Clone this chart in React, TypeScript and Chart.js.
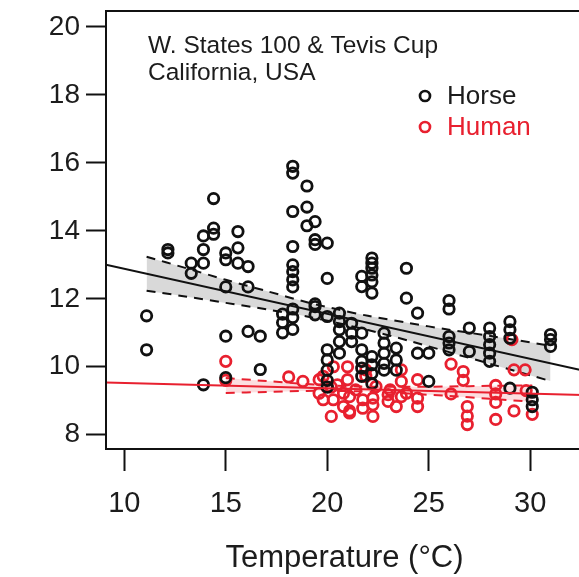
import { useEffect, useRef } from "react";
import { Chart, registerables } from "chart.js";

Chart.register(...registerables);

// Axis setup
const X_TICKS = [10, 15, 20, 25, 30];
const Y_TICKS = [8, 10, 12, 14, 16, 18, 20];
const X_MIN = 9.1;
const X_MAX = 32.6;
const Y_MIN = 7.58;
const Y_MAX = 20.47;

// Finishing speed vs. race-day temperature (temp °C, speed)
const horsePoints: [number, number][] = [
  [11.1, 11.5], [11.1, 10.5],
  [12.15, 13.45], [12.15, 13.35],
  [13.3, 13.05], [13.3, 12.75],
  [13.9, 13.85], [13.9, 13.45], [13.9, 13.05], [13.9, 9.47],
  [14.4, 14.95], [14.4, 14.08], [14.4, 13.9],
  [15.0, 13.35], [15.0, 13.15], [15.0, 12.35], [15.0, 10.9], [15.0, 9.68],
  [15.6, 13.98], [15.6, 13.5], [15.6, 13.05],
  [16.1, 12.95], [16.1, 12.35], [16.1, 11.04],
  [16.7, 10.9], [16.7, 9.92],
  [17.8, 11.55], [17.8, 11.3], [17.8, 11.0],
  [18.3, 15.9], [18.3, 15.7], [18.3, 14.57], [18.3, 13.54], [18.3, 13.0],
  [18.3, 12.8], [18.3, 12.56], [18.3, 12.35], [18.3, 11.7], [18.3, 11.45], [18.3, 11.1],
  [19.0, 15.32], [19.0, 14.7], [19.0, 14.15],
  [19.4, 14.27], [19.4, 13.74], [19.4, 13.6], [19.4, 11.85], [19.4, 11.77], [19.4, 11.53],
  [20.0, 13.64], [20.0, 12.6], [20.0, 11.48], [20.0, 10.5], [20.0, 10.2],
  [20.0, 9.9], [20.0, 9.6], [20.0, 9.4],
  [20.6, 11.58], [20.6, 11.33], [20.6, 11.09], [20.6, 10.74], [20.6, 10.4],
  [21.2, 11.28], [21.2, 10.99], [21.2, 10.74],
  [21.7, 12.66], [21.7, 12.36], [21.7, 10.99], [21.7, 10.5], [21.7, 10.16], [21.7, 9.96], [21.7, 9.72],
  [22.2, 13.2], [22.2, 13.05], [22.2, 12.9], [22.2, 12.7], [22.2, 12.5], [22.2, 12.17],
  [22.2, 10.3], [22.2, 10.06], [22.2, 9.8], [22.2, 9.5],
  [22.8, 10.99], [22.8, 10.7], [22.8, 10.4], [22.8, 10.1], [22.8, 9.9],
  [23.4, 10.55], [23.4, 10.2], [23.4, 9.9],
  [23.9, 12.9], [23.9, 12.02],
  [24.45, 11.58], [24.45, 10.4],
  [25.0, 10.4], [25.0, 9.57],
  [26.0, 11.95], [26.0, 11.7], [26.0, 10.89], [26.0, 10.7], [26.0, 10.5],
  [27.0, 11.14], [27.0, 10.45],
  [28.0, 11.14], [28.0, 10.89], [28.0, 10.65], [28.0, 10.4], [28.0, 10.16],
  [29.0, 11.33], [29.0, 11.09], [29.0, 10.84], [29.0, 9.37],
  [30.1, 9.25], [30.1, 9.03], [30.1, 8.83],
  [31.0, 10.95], [31.0, 10.8], [31.0, 10.6],
];

const humanPoints: [number, number][] = [
  [15.0, 10.16], [15.0, 9.6],
  [18.1, 9.7], [18.8, 9.57],
  [19.6, 9.62], [19.6, 9.22], [19.8, 9.03], [19.8, 9.72],
  [20.2, 8.54], [20.2, 9.4], [20.3, 9.03], [20.3, 10.0], [20.5, 9.47],
  [20.8, 9.22], [20.8, 8.83],
  [21.0, 10.0], [21.0, 9.62],
  [21.1, 8.64], [21.1, 9.12], [21.1, 8.7],
  [21.4, 9.32], [21.75, 9.03], [21.75, 8.78],
  [21.9, 9.91], [21.9, 9.72],
  [22.25, 8.54], [22.25, 9.08], [22.25, 8.88], [22.4, 9.42],
  [23.0, 9.18], [23.0, 8.98], [23.1, 9.32], [23.4, 8.83],
  [23.65, 9.91], [23.65, 9.57], [23.65, 9.12], [23.9, 9.22],
  [24.45, 9.08], [24.45, 8.83], [24.45, 9.62],
  [26.1, 10.08], [26.1, 9.2],
  [26.7, 9.86], [26.7, 9.6],
  [26.9, 8.83], [26.9, 8.55], [26.9, 8.3],
  [28.3, 9.45], [28.3, 9.2], [28.3, 8.95], [28.3, 8.45],
  [29.1, 10.8], [29.2, 9.91], [29.2, 8.7], [29.75, 9.91], [29.8, 9.3],
  [30.1, 8.6],
];

// Fitted regression lines (endpoints at the plot edges)
const fitTemps = [X_MIN, X_MAX];
const horseFit = [13.0, 9.89];
const humanFit = [9.54, 9.17];

// Confidence bands around the fits
const horseBandTemps = [11.1, 13, 15, 17, 19, 20.5, 22, 24, 26, 28, 31];
const horseBandUpper = [13.24, 12.91, 12.56, 12.23, 11.9, 11.69, 11.5, 11.29, 11.09, 10.91, 10.62];
const horseBandLower = [12.24, 12.07, 11.88, 11.69, 11.48, 11.29, 11.08, 10.77, 10.43, 10.09, 9.58];

const humanBandTemps = [15, 17, 19, 21.5, 24, 26, 28, 30.1];
const humanBandUpper = [9.67, 9.58, 9.49, 9.42, 9.41, 9.42, 9.44, 9.45];
const humanBandLower = [9.23, 9.26, 9.29, 9.28, 9.21, 9.14, 9.06, 8.97];

const TITLE_LINES = ["W. States 100 & Tevis Cup", "California, USA"];
const LEGEND_LABELS = ["Horse", "Human"];
const X_TITLE = "Temperature (°C)";

const HORSE_COLOR = "#111111";
const HUMAN_COLOR = "#e8202f";
const TEXT_COLOR = "#1c1c1c";
const FONT = '"Liberation Sans", Arial, Helvetica, sans-serif';

const toXY = (xs: number[], ys: number[]) => xs.map((x, i) => ({ x, y: ys[i] }));
const pairsToXY = (pairs: [number, number][]) => pairs.map(([x, y]) => ({ x, y }));

const decorPlugin = {
  id: "decor",
  afterDraw(chart: any) {
    const { ctx, chartArea } = chart;
    ctx.save();
    // frame
    ctx.strokeStyle = HORSE_COLOR;
    ctx.lineWidth = 2;
    ctx.strokeRect(chartArea.left, chartArea.top, chartArea.right - chartArea.left, chartArea.bottom - chartArea.top);

    // site annotation
    ctx.fillStyle = TEXT_COLOR;
    ctx.font = `24.5px ${FONT}`;
    ctx.textAlign = "left";
    ctx.textBaseline = "middle";
    ctx.fillText(TITLE_LINES[0], 148, 46);
    ctx.fillText(TITLE_LINES[1], 148, 73);

    // legend
    const colors = [HORSE_COLOR, HUMAN_COLOR];
    const ys = [96, 127];
    ctx.font = `26px ${FONT}`;
    LEGEND_LABELS.forEach((label, i) => {
      ctx.beginPath();
      ctx.lineWidth = 2.7;
      ctx.strokeStyle = colors[i];
      ctx.arc(425, ys[i], 5, 0, Math.PI * 2);
      ctx.stroke();
      ctx.fillStyle = i === 0 ? TEXT_COLOR : HUMAN_COLOR;
      ctx.fillText(label, 447, ys[i] + 1);
    });

    // x-axis title
    ctx.fillStyle = TEXT_COLOR;
    ctx.font = `31px ${FONT}`;
    ctx.textAlign = "center";
    ctx.textBaseline = "alphabetic";
    ctx.fillText(X_TITLE, (chartArea.left + chartArea.right) / 2, 567);
    ctx.restore();
  },
};

export default function App() {
  const canvasRef = useRef<HTMLCanvasElement | null>(null);

  useEffect(() => {
    if (!canvasRef.current) return;

    const pointStyle = (color: string, order: number) => ({
      showLine: false,
      pointRadius: 5.2,
      pointHoverRadius: 5.2,
      pointBorderWidth: 2.8,
      pointBorderColor: color,
      pointBackgroundColor: "rgba(0,0,0,0)",
      order,
    });

    const bandEdge = (color: string) => ({
      showLine: true,
      pointRadius: 0,
      borderColor: color,
      borderWidth: 2,
      borderDash: [9, 7],
      tension: 0.3,
      order: 3,
    });

    const chart = new Chart(canvasRef.current, {
      type: "scatter",
      data: {
        datasets: [
          {
            label: "Horse band upper",
            data: toXY(horseBandTemps, horseBandUpper),
            ...bandEdge(HORSE_COLOR),
            fill: "+1",
            backgroundColor: "rgba(0,0,0,0.15)",
          },
          {
            label: "Horse band lower",
            data: toXY(horseBandTemps, horseBandLower),
            ...bandEdge(HORSE_COLOR),
          },
          {
            label: "Human band upper",
            data: toXY(humanBandTemps, humanBandUpper),
            ...bandEdge(HUMAN_COLOR),
            fill: "+1",
            backgroundColor: "rgba(232,32,47,0.15)",
          },
          {
            label: "Human band lower",
            data: toXY(humanBandTemps, humanBandLower),
            ...bandEdge(HUMAN_COLOR),
          },
          { label: "Human", data: pairsToXY(humanPoints), ...pointStyle(HUMAN_COLOR, 2) },
          { label: "Horse", data: pairsToXY(horsePoints), ...pointStyle(HORSE_COLOR, 1) },
          {
            label: "Horse fit",
            data: toXY(fitTemps, horseFit),
            showLine: true,
            pointRadius: 0,
            borderColor: HORSE_COLOR,
            borderWidth: 2,
            order: 0,
          },
          {
            label: "Human fit",
            data: toXY(fitTemps, humanFit),
            showLine: true,
            pointRadius: 0,
            borderColor: HUMAN_COLOR,
            borderWidth: 2,
            order: 0,
          },
        ],
      },
      options: {
        animation: false,
        responsive: false,
        devicePixelRatio: 1,
        layout: { padding: { left: 0, right: 17, top: 11, bottom: 0 } },
        plugins: {
          legend: { display: false },
          tooltip: { enabled: false },
          title: { display: false },
        },
        scales: {
          x: {
            type: "linear",
            min: X_MIN,
            max: X_MAX,
            afterBuildTicks: (scale: any) => {
              scale.ticks = X_TICKS.map((value) => ({ value }));
            },
            afterFit: (scale: any) => {
              scale.height = 128;
              scale.paddingLeft = 0;
              scale.paddingRight = 0;
            },
            border: { display: false },
            grid: {
              display: true,
              drawOnChartArea: false,
              drawTicks: true,
              tickLength: 22,
              tickColor: HORSE_COLOR,
              tickWidth: 2,
            },
            ticks: {
              color: TEXT_COLOR,
              font: { family: FONT, size: 29 },
              padding: 16,
              maxRotation: 0,
              autoSkip: false,
            },
          },
          y: {
            type: "linear",
            min: Y_MIN,
            max: Y_MAX,
            afterBuildTicks: (scale: any) => {
              scale.ticks = Y_TICKS.map((value) => ({ value }));
            },
            afterFit: (scale: any) => {
              scale.width = 106;
              scale.paddingTop = 0;
              scale.paddingBottom = 0;
            },
            border: { display: false },
            grid: {
              display: true,
              drawOnChartArea: false,
              drawTicks: true,
              tickLength: 20,
              tickColor: HORSE_COLOR,
              tickWidth: 2,
            },
            ticks: {
              color: TEXT_COLOR,
              font: { family: FONT, size: 28 },
              padding: 6,
              autoSkip: false,
            },
          },
        },
      },
      plugins: [decorPlugin],
    } as any);

    return () => chart.destroy();
  }, []);

  return (
    <div
      style={{
        position: "fixed",
        left: 0,
        top: 0,
        width: 579,
        height: 577,
        overflow: "hidden",
        background: "#fff",
      }}
    >
      <canvas ref={canvasRef} width={600} height={577} style={{ display: "block", width: 600, height: 577 }} />
    </div>
  );
}
